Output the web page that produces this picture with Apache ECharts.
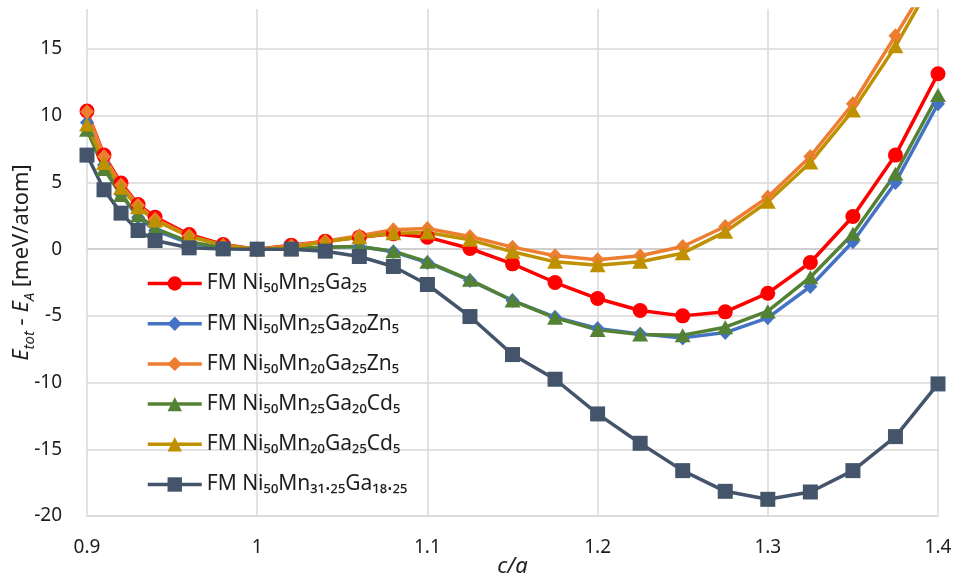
<!DOCTYPE html>
<html>
<head>
<meta charset="utf-8">
<script src="https://cdn.jsdelivr.net/npm/echarts@6/dist/echarts.min.js"></script>
<style>html,body{margin:0;padding:0;background:#fff}#c{width:956px;height:579px}</style>
</head>
<body>
<div id="c"></div>
<script>
// c/a values
var ca = [0.9,0.91,0.92,0.93,0.94,0.96,0.98,1.0,1.02,1.04,1.06,1.08,1.1,1.125,1.15,1.175,1.2,1.225,1.25,1.275,1.3,1.325,1.35,1.375,1.4];
// E_tot - E_A [meV/atom]
var ni50mn25ga25 = [10.35,7.05,4.95,3.35,2.4,1.1,0.35,0,0.3,0.6,0.9,1.15,0.9,0.05,-1.1,-2.5,-3.7,-4.6,-5.0,-4.7,-3.3,-1.0,2.45,7.05,13.15];
var ni50mn25ga20zn5 = [9.5,6.3,4.1,2.4,1.4,0.45,0.1,0,0.05,0.15,0.2,-0.2,-1.0,-2.35,-3.85,-5.1,-5.95,-6.35,-6.65,-6.25,-5.15,-2.8,0.55,5.0,10.9];
var ni50mn20ga25zn5 = [10.3,6.95,4.8,3.3,2.25,1.0,0.3,0,0.25,0.6,1.0,1.45,1.55,0.95,0.15,-0.5,-0.8,-0.5,0.2,1.7,3.9,6.95,10.9,16.0,21.2];
var ni50mn25ga20cd5 = [8.95,6.0,4.05,2.55,1.55,0.55,0.1,0,0.05,0.15,0.2,-0.15,-0.95,-2.3,-3.85,-5.15,-6.05,-6.4,-6.45,-5.85,-4.65,-2.1,1.15,5.65,11.55];
var ni50mn20ga25cd5 = [9.35,6.45,4.6,3.15,2.15,0.95,0.3,0,0.15,0.55,0.9,1.2,1.25,0.7,-0.2,-0.95,-1.2,-0.95,-0.3,1.3,3.55,6.5,10.4,15.2,20.8];
var ni50mn3125ga1825 = [7.05,4.45,2.7,1.4,0.65,0.1,0.02,0,0,-0.15,-0.55,-1.3,-2.65,-5.05,-7.9,-9.75,-12.35,-14.55,-16.6,-18.15,-18.75,-18.2,-16.6,-14.05,-10.1];

var seriesNames = [
  'FM Ni₅₀Mn₂₅Ga₂₅',
  'FM Ni₅₀Mn₂₅Ga₂₀Zn₅',
  'FM Ni₅₀Mn₂₀Ga₂₅Zn₅',
  'FM Ni₅₀Mn₂₅Ga₂₀Cd₅',
  'FM Ni₅₀Mn₂₀Ga₂₅Cd₅',
  'FM Ni₅₀Mn₃₁.₂₅Ga₁₈.₂₅'
];
var seriesValues = [ni50mn25ga25, ni50mn25ga20zn5, ni50mn20ga25zn5, ni50mn25ga20cd5, ni50mn20ga25cd5, ni50mn3125ga1825];
var colors = ['#FF0000','#4472C4','#ED7D31','#548235','#BF9000','#44546A'];
var symbols = ['circle','diamond','diamond','triangle','triangle','rect'];
var symbolSizes = [15,[14,15],[14,15],[16,14],[16,14],15];

function pairs(v){ return ca.map(function(x,i){ return [x, v[i]]; }); }

var series = seriesValues.map(function(v,i){
  return {
    name: seriesNames[i],
    type: 'line',
    data: pairs(v),
    symbol: symbols[i],
    symbolSize: symbolSizes[i],
    showAllSymbol: true,
    clip: true,
    lineStyle: {color: colors[i], width: 3.5},
    itemStyle: {color: colors[i]},
    emphasis: {disabled: true},
    animation: false
  };
});

var chart = echarts.init(document.getElementById('c'), null, {renderer: 'canvas'});
chart.setOption({
  animation: false,
  grid: {left: 87, right: 18, top: 9, bottom: 63, containLabel: false, outerBoundsMode: 'none'},
  legend: {
    orient: 'vertical',
    left: 146,
    top: 273,
    padding: 0,
    itemWidth: 54,
    itemHeight: 18,
    itemGap: 19.2,
    lineStyle: {width: 3.5},
    textStyle: {fontFamily: 'Noto Sans', fontSize: 21, color: '#1e1e1e', lineHeight: 18},
    data: seriesNames
  },
  xAxis: {
    type: 'value',
    min: 0.9, max: 1.4, interval: 0.1,
    axisLine: {onZero: false, lineStyle: {color: '#d9d9d9', width: 1.5}},
    axisTick: {show: false},
    splitLine: {show: true, lineStyle: {color: '#d9d9d9', width: 1.5}},
    axisLabel: {fontFamily: 'Noto Sans', fontSize: 19, color: '#1e1e1e', margin: 22,
      formatter: function(v){ return Math.abs(v-1) < 1e-9 ? '1' : v.toFixed(1); }},
    name: 'c/a',
    nameLocation: 'middle',
    nameGap: 40,
    nameMoveOverlap: false,
    nameTextStyle: {fontFamily: 'Noto Sans', fontStyle: 'italic', fontSize: 22, color: '#1e1e1e'}
  },
  yAxis: {
    type: 'value',
    min: -20, max: 18, interval: 5,
    axisLine: {show: false},
    axisTick: {show: false},
    splitLine: {show: true, showMaxLine: false,
      lineStyle: {color: ['#d9d9d9','#d9d9d9','#d9d9d9','#d9d9d9','#bfbfbf','#d9d9d9','#d9d9d9','#d9d9d9'], width: 1.5}},
    axisLabel: {fontFamily: 'Noto Sans', fontSize: 19, color: '#1e1e1e', margin: 25, showMaxLabel: false},
    name: '{i|E}{s|tot}{n| - }{i|E}{s|A}{n| [meV/atom]}',
    nameLocation: 'middle',
    nameGap: 50,
    nameMoveOverlap: false,
    nameTextStyle: {
      fontFamily: 'Noto Sans', fontSize: 22, color: '#1e1e1e',
      rich: {
        i: {fontFamily: 'Noto Sans', fontStyle: 'italic', fontSize: 22, color: '#1e1e1e', lineHeight: 30},
        n: {fontFamily: 'Noto Sans', fontSize: 22, color: '#1e1e1e', lineHeight: 30},
        s: {fontFamily: 'Noto Sans', fontStyle: 'italic', fontSize: 15, color: '#1e1e1e', lineHeight: 15, verticalAlign: 'bottom'}
      }
    }
  },
  series: series
});
</script>
</body>
</html>
